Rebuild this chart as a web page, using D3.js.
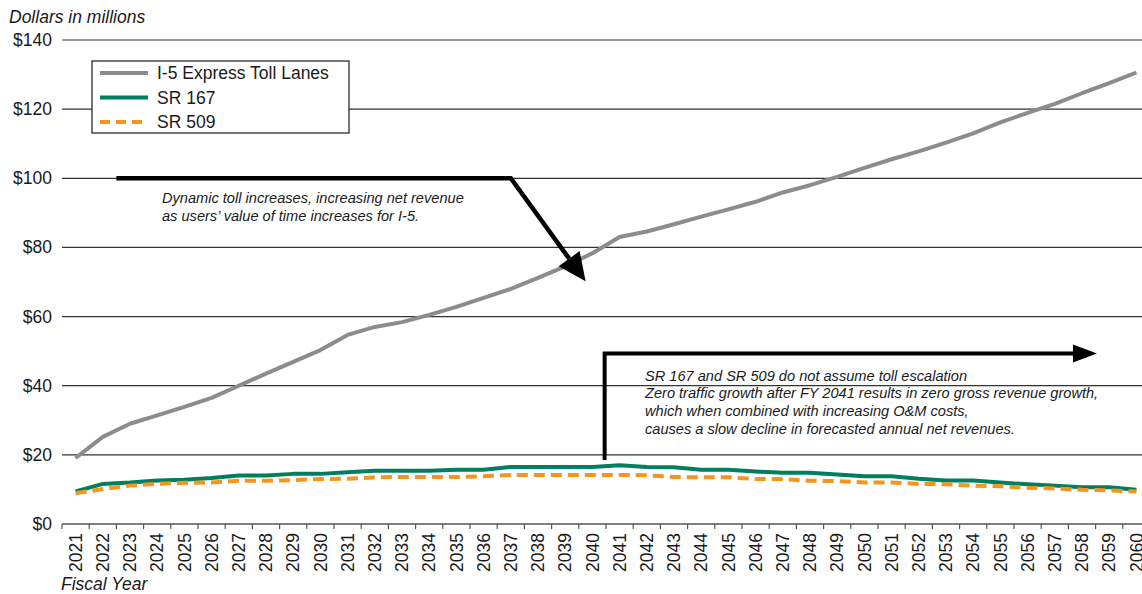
<!DOCTYPE html>
<html>
<head>
<meta charset="utf-8">
<script src="https://cdn.jsdelivr.net/npm/d3@7"></script>
<style>
  body { margin: 0; background: #fff; }
  text { font-family: "Liberation Sans", Arial, sans-serif; fill: #1a1a1a; }
</style>
</head>
<body>
<div id="chart"></div>
<script>
const width = 1142;
const height = 594;

// fiscal years on the x axis
const years = ["2021","2022","2023","2024","2025","2026","2027","2028","2029","2030",
               "2031","2032","2033","2034","2035","2036","2037","2038","2039","2040",
               "2041","2042","2043","2044","2045","2046","2047","2048","2049","2050",
               "2051","2052","2053","2054","2055","2056","2057","2058","2059","2060"];

// net revenue, $ millions
const i5Values = [19.1, 25.2, 29.0, 31.4, 33.9, 36.5, 40.0, 43.5, 46.9, 50.3,
                  54.7, 57.0, 58.4, 60.5, 62.8, 65.4, 68.0, 71.2, 74.5, 78.3,
                  83.0, 84.6, 86.7, 88.9, 91.0, 93.2, 95.9, 98.0, 100.4, 103.0,
                  105.5, 107.8, 110.3, 113.0, 116.2, 118.9, 121.5, 124.6, 127.5, 130.6];
const sr167Values = [9.4, 11.6, 12.0, 12.6, 12.8, 13.3, 14.0, 14.0, 14.5, 14.5,
                     15.0, 15.4, 15.4, 15.4, 15.7, 15.7, 16.5, 16.5, 16.5, 16.5,
                     17.0, 16.5, 16.4, 15.7, 15.7, 15.2, 14.8, 14.8, 14.3, 13.8,
                     13.8, 13.1, 12.6, 12.6, 12.0, 11.5, 11.1, 10.6, 10.6, 9.9];
const sr509Values = [8.9, 10.1, 11.1, 11.6, 11.9, 12.0, 12.5, 12.5, 12.7, 13.0,
                     13.1, 13.5, 13.6, 13.6, 13.6, 13.8, 14.2, 14.2, 14.2, 14.2,
                     14.2, 14.1, 13.6, 13.5, 13.5, 13.0, 13.0, 12.5, 12.4, 12.0,
                     12.0, 11.6, 11.5, 11.1, 10.9, 10.5, 10.3, 9.9, 9.7, 9.4];

const seriesNames = ["I-5 Express Toll Lanes", "SR 167", "SR 509"];
const yTicks = [0, 20, 40, 60, 80, 100, 120, 140];

const note1 = ["Dynamic toll increases, increasing net revenue",
               "as users\u2019 value of time increases for I-5."];
const note2 = ["SR 167 and SR 509 do not assume toll escalation",
               "Zero traffic growth after FY 2041 results in zero gross revenue growth,",
               "which when combined with increasing O&M costs,",
               "causes a slow decline in forecasted annual net revenues."];

const color = d3.scaleOrdinal().domain(seriesNames).range(["#8c8c8c", "#007f5f", "#f7941d"]);

const plotLeft = 62, plotTop = 40, plotBottom = 524;

const xScale = d3.scaleBand().domain(years).range([plotLeft, plotLeft + 40 * 27.2]);
const yScale = d3.scaleLinear().domain([0, 140]).range([plotBottom, plotTop]);
const xc = i => xScale(years[0]) + xScale.bandwidth() / 2 + i * xScale.step();

const svg = d3.select("#chart").append("svg")
    .attr("width", width)
    .attr("height", height);

// grid lines
svg.append("g").selectAll("line")
    .data(yTicks.filter(d => d > 0)).enter()
    .append("line")
    .attr("x1", plotLeft).attr("x2", width)
    .attr("y1", d => yScale(d)).attr("y2", d => yScale(d))
    .style("stroke", "#333")
    .style("stroke-width", 1.2);

// y labels
svg.append("g").selectAll("text")
    .data(yTicks).enter()
    .append("text")
    .attr("x", 52)
    .attr("y", d => yScale(d) + 6)
    .attr("text-anchor", "end")
    .style("font-size", "17.5px")
    .text(d => "$" + d);

svg.append("text")
    .attr("x", 9).attr("y", 23)
    .style("font-size", "17.5px")
    .style("font-style", "italic")
    .text("Dollars in millions");

// x axis
var xAxis = d3.axisBottom(xScale).tickSize(0).tickPadding(0);
var gx = svg.append("g")
    .attr("transform", `translate(0,${plotBottom})`)
    .call(xAxis);
gx.select(".domain").remove();
gx.append("line")
    .attr("x1", plotLeft).attr("x2", width)
    .attr("y1", 0).attr("y2", 0)
    .style("stroke", "#555").style("stroke-width", 1.5);
gx.selectAll(".bnd")
    .data(years).enter()
    .append("line")
    .attr("x1", d => xScale(d)).attr("x2", d => xScale(d))
    .attr("y1", 0).attr("y2", 5)
    .style("stroke", "#555").style("stroke-width", 1.2);
gx.selectAll(".tick text")
    .attr("transform", "rotate(-90)")
    .attr("x", -9)
    .attr("y", 0)
    .attr("dy", "0.35em")
    .attr("text-anchor", "end")
    .style("font-family", "'Liberation Sans', Arial, sans-serif")
    .style("font-size", "17.5px")
    .style("fill", "#1a1a1a");

svg.append("text")
    .attr("x", 61).attr("y", 590)
    .style("font-size", "17.5px")
    .style("font-style", "italic")
    .text("Fiscal Year");

// lines
var line = d3.line()
    .x((d, i) => xScale(years[i]) + xScale.bandwidth() / 2)
    .y(d => yScale(d));

const series = [
    { name: seriesNames[0], values: i5Values, dash: null },
    { name: seriesNames[1], values: sr167Values, dash: null },
    { name: seriesNames[2], values: sr509Values, dash: "11,6" }
];

svg.append("g").selectAll("path")
    .data(series).enter()
    .append("path")
    .attr("d", d => line(d.values))
    .style("fill", "none")
    .style("stroke", d => color(d.name))
    .style("stroke-width", 4)
    .style("stroke-linejoin", "round")
    .style("stroke-dasharray", d => d.dash);

// annotations
function arrowHead(g, x1, y1, x2, y2, len, half) {
    var a = Math.atan2(y2 - y1, x2 - x1);
    var bx = x2 - len * Math.cos(a), by = y2 - len * Math.sin(a);
    var px = -Math.sin(a) * half, py = Math.cos(a) * half;
    g.append("path")
        .attr("d", `M${x2},${y2}L${bx + px},${by + py}L${bx - px},${by - py}Z`)
        .style("fill", "#000");
    return [bx, by];
}

var ann = svg.append("g");
// I-5 arrow
var a1 = [[xc(1.5), yScale(100)], [xc(16), yScale(100)], [xc(18.75), yScale(70.2)]];
var b1 = arrowHead(ann, a1[1][0], a1[1][1], a1[2][0], a1[2][1], 28, 13);
ann.append("path")
    .attr("d", `M${a1[0][0]},${a1[0][1]}L${a1[1][0]},${a1[1][1]}L${b1[0]},${b1[1]}`)
    .style("fill", "none").style("stroke", "#000").style("stroke-width", 4.5);

ann.selectAll(".n1").data(note1).enter()
    .append("text")
    .attr("x", 162).attr("y", (d, i) => 203 + i * 18)
    .style("font-size", "14.6px").style("font-style", "italic")
    .text(d => d);

// SR 167 / SR 509 arrow
var a2 = [[xc(19.45), yScale(18.5)], [xc(19.45), yScale(49.3)], [xc(37.55), yScale(49.3)]];
var b2 = arrowHead(ann, a2[1][0], a2[1][1], a2[2][0], a2[2][1], 24, 9);
ann.append("path")
    .attr("d", `M${a2[0][0]},${a2[0][1]}L${a2[1][0]},${a2[1][1]}L${b2[0] + 1},${b2[1]}`)
    .style("fill", "none").style("stroke", "#000").style("stroke-width", 4);

ann.selectAll(".n2").data(note2).enter()
    .append("text")
    .attr("x", 645).attr("y", (d, i) => 380.5 + i * 17.9)
    .style("font-size", "14.6px").style("font-style", "italic")
    .text(d => d);

// legend
var lg = svg.append("g");
lg.append("rect")
    .attr("x", 92).attr("y", 61).attr("width", 257).attr("height", 72)
    .style("fill", "#fff").style("stroke", "#1a1a1a").style("stroke-width", 1.2);
var item = lg.selectAll(".item")
    .data(series).enter()
    .append("g")
    .attr("transform", (d, i) => `translate(100,${73 + i * 24.5})`);
item.append("line")
    .attr("x1", 0).attr("x2", 48)
    .style("stroke", d => color(d.name))
    .style("stroke-width", 4)
    .style("stroke-dasharray", d => d.dash ? "10,6" : null);
item.append("text")
    .attr("x", 57).attr("y", 6)
    .style("font-size", "17.5px")
    .text(d => d.name);
</script>
</body>
</html>
